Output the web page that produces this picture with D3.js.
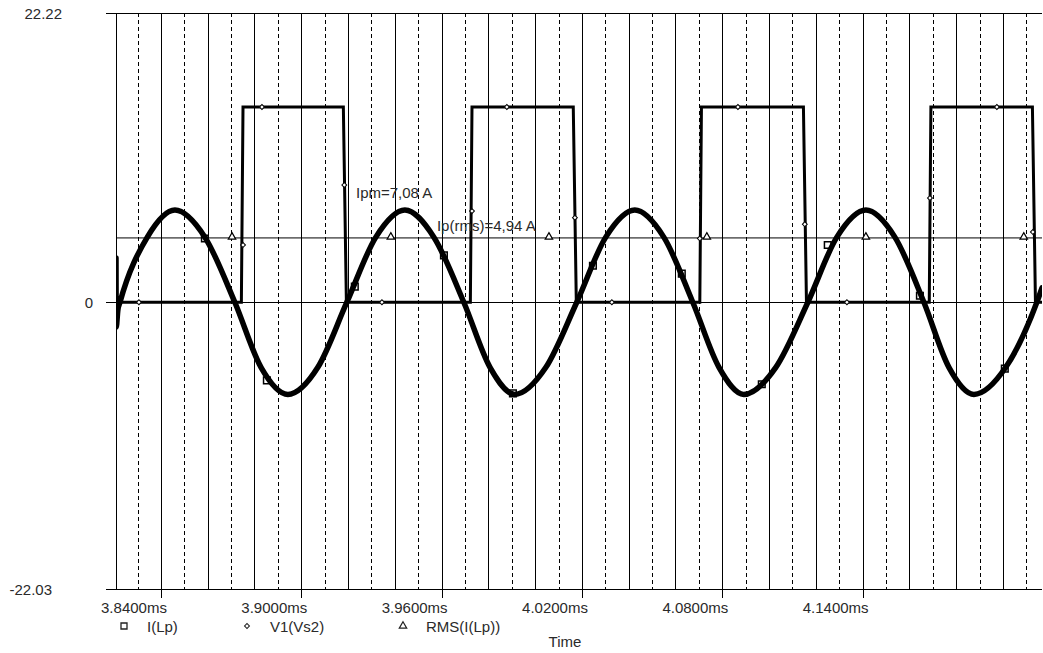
<!DOCTYPE html>
<html>
<head>
<meta charset="utf-8">
<script src="https://cdn.jsdelivr.net/npm/d3@7"></script>
<style>
body { margin: 0; background: #fff; }
svg text { font-family: "Liberation Sans", Arial, sans-serif; font-size: 15px; fill: #2a2a2a; }
</style>
</head>
<body>
<svg id="chart" width="1043" height="653"></svg>
<script>
// Axis extents (time in ms, value in A / V)
const timeDomain = [3.8208, 4.2167];
const valueDomain = [-22.03, 22.22];
const yTickValues = [22.22, 0, -22.03];
const xLabelTicks = [3.84, 3.90, 3.96, 4.02, 4.08, 4.14];

// I(Lp) - inductor current, [time, value]
const iLp = [
    [3.8208, 3.4], [3.8209, -1.9], [3.8216, -0.6], [3.8225, 0],
    [3.8342, 5.0], [3.8460, 7.08], [3.8588, 5.0], [3.8716, 0],
    [3.8828, -5.0], [3.8943, -7.08], [3.9071, -5.0], [3.9195, 0],
    [3.9319, 5.0], [3.9443, 7.08], [3.9567, 5.0], [3.9695, 0],
    [3.9807, -5.0], [3.9913, -7.08], [4.0046, -5.0], [4.0178, 0],
    [4.0302, 5.0], [4.0426, 7.08], [4.0550, 5.0], [4.0674, 0],
    [4.0786, -5.0], [4.0892, -7.08], [4.1029, -5.0], [4.1166, 0],
    [4.1290, 5.0], [4.1414, 7.08], [4.1538, 5.0], [4.1662, 0],
    [4.1769, -5.0], [4.1876, -7.08], [4.2012, -5.0], [4.2145, 0],
    [4.2167, 1.1]
];

// V1(Vs2) - square drive voltage
const v1Vs2 = [
    [3.8208, 0], [3.8744, 0], [3.8751, 15], [3.9180, 15], [3.9193, 0],
    [3.9723, 0], [3.9730, 15], [4.0163, 15], [4.0176, 0],
    [4.0704, 0], [4.0711, 15], [4.1147, 15], [4.1160, 0],
    [4.1685, 0], [4.1692, 15], [4.2126, 15], [4.2139, 0], [4.2167, 0]
];

// RMS(I(Lp))
const rmsLp = [[3.8208, 4.94], [4.2167, 4.94]];

// marker points sitting on each trace
const iLpMarkers = [
    [3.8588, 4.9], [3.8853, -6.0], [3.9229, 1.2], [3.9610, 3.6], [3.9905, -7.0],
    [4.0247, 2.8], [4.0627, 2.2], [4.0969, -6.3], [4.1251, 4.4], [4.1645, 0.5], [4.2008, -5.1]
];
const v1Markers = [
    [3.8306, 0], [3.8751, 4.4], [3.8832, 15], [3.9184, 9.0], [3.9345, 0],
    [3.9730, 7.0], [3.9879, 15], [4.0170, 6.5], [4.0328, 0],
    [4.0704, 4.9], [4.0867, 15], [4.1153, 6.0], [4.1333, 0],
    [4.1688, 8.0], [4.1974, 15], [4.2128, 5.4]
];
const rmsMarkers = [
    [3.8704, 4.94], [3.9383, 4.94], [4.0059, 4.94], [4.0734, 4.94], [4.1414, 4.94], [4.2089, 4.94]
];

const legendLabels = ["I(Lp)", "V1(Vs2)", "RMS(I(Lp))"];
const annotations = [
    { text: "Ipm=7,08 A", t: 3.9234, v: 7.97 },
    { text: "Ip(rms)=4,94 A", t: 3.9580, v: 5.44 }
];

const svg = d3.select("#chart");

const plotLeft = 116, plotRight = 1042, plotTop = 13, plotBottom = 589;

const x = d3.scaleLinear().domain(timeDomain).range([plotLeft, plotRight]);
const y = d3.scaleLinear().domain(valueDomain).range([plotBottom, plotTop]);

const px = v => Math.round(v) + 0.5;

// clip for traces
svg.append("clipPath").attr("id", "plotClip")
    .append("rect")
    .attr("x", plotLeft).attr("y", plotTop)
    .attr("width", plotRight - plotLeft).attr("height", plotBottom - plotTop);

// vertical grid, every 0.01 ms, solid on even hundredths
const grid = svg.append("g");
grid.selectAll("line")
    .data(x.ticks(40).filter(d => x(d) > plotLeft + 3))
    .enter().append("line")
    .attr("x1", d => px(x(d))).attr("x2", d => px(x(d)))
    .attr("y1", plotTop).attr("y2", plotBottom)
    .attr("stroke", "#000")
    .attr("stroke-width", 1)
    .attr("stroke-dasharray", d => Math.round(d * 100) % 2 === 0 ? null : "4,3");

// horizontal lines: top, zero, bottom (with left ticks)
svg.append("g").selectAll("line")
    .data(yTickValues)
    .enter().append("line")
    .attr("x1", plotLeft - 10).attr("x2", plotRight)
    .attr("y1", d => px(y(d))).attr("y2", d => px(y(d)))
    .attr("stroke", "#000").attr("stroke-width", 1);

// left axis
svg.append("line")
    .attr("x1", px(plotLeft)).attr("x2", px(plotLeft))
    .attr("y1", plotTop).attr("y2", plotBottom)
    .attr("stroke", "#000");

// labelled ticks on the time axis
svg.append("g").selectAll("line")
    .data(xLabelTicks)
    .enter().append("line")
    .attr("x1", d => px(x(d))).attr("x2", d => px(x(d)))
    .attr("y1", plotBottom).attr("y2", plotBottom + 9)
    .attr("stroke", "#000");

svg.append("g").selectAll("text")
    .data(xLabelTicks)
    .enter().append("text")
    .attr("x", d => x(d) + 6)
    .attr("y", 613)
    .attr("text-anchor", "end")
    .text(d => d.toFixed(4) + "ms");

// y labels (PSpice puts them at uneven offsets)
svg.append("g").selectAll("text")
    .data(yTickValues)
    .enter().append("text")
    .attr("x", d => d === 0 ? 93 : (d > 0 ? 62 : 52))
    .attr("y", d => y(d) + 5.5)
    .attr("text-anchor", "end")
    .text(d => d === 0 ? "0" : d.toFixed(2));

// traces
const traces = svg.append("g").attr("clip-path", "url(#plotClip)");

const lineLinear = d3.line().x(d => x(d[0])).y(d => y(d[1]));
const lineSmooth = d3.line().x(d => x(d[0])).y(d => y(d[1])).curve(d3.curveMonotoneX);

traces.append("path")
    .datum(rmsLp)
    .attr("d", lineLinear)
    .attr("fill", "none").attr("stroke", "#000").attr("stroke-width", 1);

traces.append("path")
    .datum(v1Vs2)
    .attr("d", lineLinear)
    .attr("fill", "none").attr("stroke", "#000").attr("stroke-width", 3)
    .attr("stroke-linejoin", "miter");

traces.append("path")
    .datum(iLp)
    .attr("d", lineSmooth)
    .attr("fill", "none").attr("stroke", "#000").attr("stroke-width", 5.5)
    .attr("stroke-linejoin", "round").attr("stroke-linecap", "round");

// markers
const squareSym = d3.symbol().type(d3.symbolSquare).size(44);
const diamondSym = d3.symbol().type(d3.symbolSquare).size(12);
const triangleSym = d3.symbol().type(d3.symbolTriangle).size(24);

traces.selectAll(".mk-i")
    .data(iLpMarkers)
    .enter().append("path")
    .attr("class", "mk-i")
    .attr("transform", d => `translate(${x(d[0])},${y(d[1])})`)
    .attr("d", squareSym)
    .attr("fill", "none").attr("stroke", "#000").attr("stroke-width", 1.5);

traces.selectAll(".mk-v")
    .data(v1Markers)
    .enter().append("path")
    .attr("class", "mk-v")
    .attr("transform", d => `translate(${x(d[0])},${y(d[1])}) rotate(45)`)
    .attr("d", diamondSym)
    .attr("fill", "#fff").attr("stroke", "#000").attr("stroke-width", 1);

traces.selectAll(".mk-r")
    .data(rmsMarkers)
    .enter().append("path")
    .attr("class", "mk-r")
    .attr("transform", d => `translate(${x(d[0])},${y(d[1]) - 1})`)
    .attr("d", triangleSym)
    .attr("fill", "#fff").attr("stroke", "#000").attr("stroke-width", 1.2);

// annotations
svg.append("g").selectAll("text")
    .data(annotations)
    .enter().append("text")
    .attr("x", d => x(d.t))
    .attr("y", d => y(d.v))
    .text(d => d.text);

// legend
const legendX = [124, 247, 403];
const legendSyms = [
    { sym: d3.symbol().type(d3.symbolSquare).size(36), rot: 0, sw: 1.3 },
    { sym: d3.symbol().type(d3.symbolSquare).size(12), rot: 45, sw: 1 },
    { sym: d3.symbol().type(d3.symbolTriangle).size(24), rot: 0, sw: 1.2 }
];
const legend = svg.append("g").selectAll("g")
    .data(legendLabels)
    .enter().append("g")
    .attr("transform", (d, i) => `translate(${legendX[i]},626)`);

legend.append("path")
    .attr("d", (d, i) => legendSyms[i].sym())
    .attr("transform", (d, i) => `rotate(${legendSyms[i].rot})`)
    .attr("fill", "#fff").attr("stroke", "#222")
    .attr("stroke-width", (d, i) => legendSyms[i].sw);

legend.append("text")
    .attr("x", 23)
    .attr("y", 6)
    .text(d => d);

svg.append("text")
    .attr("x", 565)
    .attr("y", 647)
    .attr("text-anchor", "middle")
    .text("Time");
</script>
</body>
</html>
